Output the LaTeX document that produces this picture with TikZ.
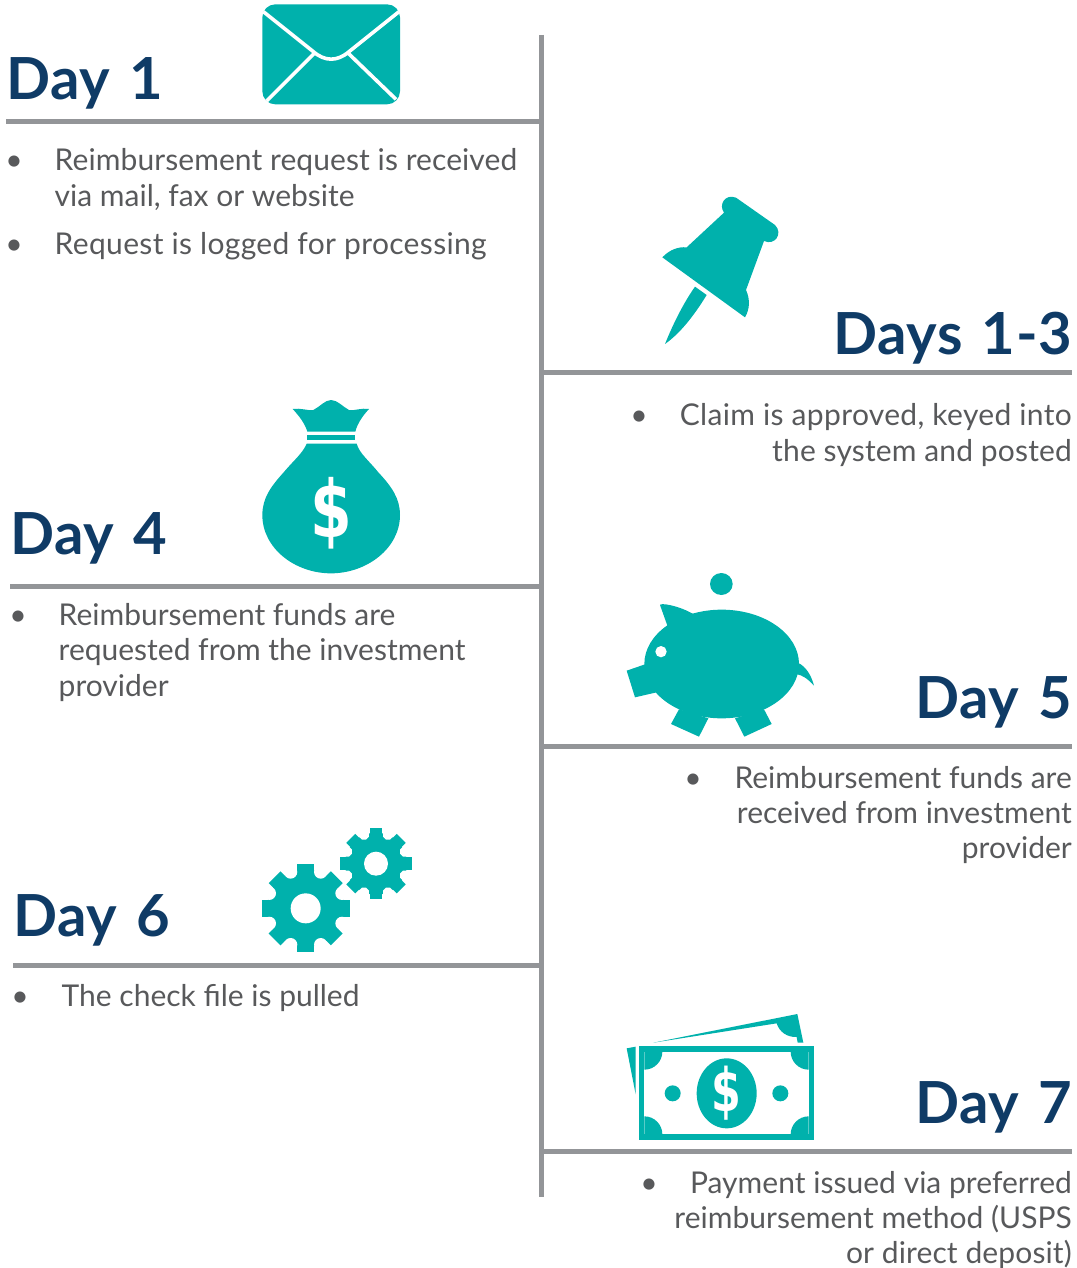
\documentclass[tikz,border=0pt]{standalone}
\usepackage{fontspec}
\setmainfont{Lato}
\newfontfamily\dollarfont{DejaVu Sans}
\newfontfamily\headfont{Lato}[LetterSpace=1,WordSpace=1.3]
\definecolor{teal1}{HTML}{00B1AC}
\definecolor{navy}{HTML}{0F3B66}
\definecolor{txt}{HTML}{58595B}
\definecolor{rule1}{HTML}{939598}
\tikzset{
  x=1pt,y=-1pt,
  rulel/.style={draw=rule1,line width=5pt},
  head/.style={inner sep=0pt,text=navy,font=\fontsize{58}{60}\selectfont\headfont\bfseries},
  body/.style={inner sep=0pt,text=txt,font=\fontsize{30}{35.3}\selectfont},
  sp/.style={font=\fontsize{30}{35.3}\selectfont\addfontfeature{LetterSpace=#1}},
  bl/.style={inner sep=0pt,text=txt,font=\fontsize{30}{35.3}\selectfont,anchor=base},
  ic/.style={fill=teal1,draw=none},
  wh/.style={draw=white,line width=3.6pt,line cap=butt},
  dol/.style={inner sep=0pt,text=white,font=\fontsize{#1}{#1}\selectfont\dollarfont\bfseries},
  z/.style={shift={#1},x=0.33333pt,y=-0.33333pt},
}
\begin{document}
\begin{tikzpicture}
\useasboundingbox (0,0) rectangle (1076,1268);
% rules
\coordinate (vt) at (541,35); \coordinate (vb) at (541,1197);
\draw[rulel] (vt) -- (vb);
\coordinate (r1a) at (6,122);   \coordinate (r1b) at (541,122);
\coordinate (r2a) at (541,372); \coordinate (r2b) at (1072,372);
\coordinate (r3a) at (10,586);  \coordinate (r3b) at (541,586);
\coordinate (r4a) at (541,746); \coordinate (r4b) at (1072,746);
\coordinate (r5a) at (13,965);  \coordinate (r5b) at (541,965);
\coordinate (r6a) at (541,1151);\coordinate (r6b) at (1072,1151);
\draw[rulel] (r1a)--(r1b); \draw[rulel] (r2a)--(r2b); \draw[rulel] (r3a)--(r3b);
\draw[rulel] (r4a)--(r4b); \draw[rulel] (r5a)--(r5b); \draw[rulel] (r6a)--(r6b);
% headings
\node[head,anchor=base west] (h1) at (6.5,100) {Day 1};
\node[head,anchor=base east] (h2) at (1072,354) {Days 1-3};
\node[head,anchor=base west] (h3) at (10.5,554) {Day 4};
\node[head,anchor=base east] (h4) at (1072,718) {Day 5};
\node[head,anchor=base west] (h5) at (13.5,936) {Day 6};
\node[head,anchor=base east] (h6) at (1072,1123) {Day 7};
% body texts (one node per printed line keeps the exact baselines)
\node[bl] (b1) at (14,171) {•};
\node[body,sp=0.3,anchor=base west] (t1a) at (54.5,171) {Reimbursement request is received};
\node[body,anchor=base west] (t1b) at (54.5,206) {via mail, fax or website};
\node[bl] (b2) at (14,254) {•};
\node[body,sp=1.15,anchor=base west] (t2) at (54.5,254) {Request is logged for processing};
\node[bl] (b3) at (639,425) {•};
\node[body,sp=1.15,anchor=base east] (t3a) at (1072,425) {Claim is approved, keyed into};
\node[body,sp=0.5,anchor=base east] (t3b) at (1072,461) {the system and posted};
\node[bl] (b4) at (18,625) {•};
\node[body,anchor=base west] (t4a) at (58.5,625) {Reimbursement funds are};
\node[body,anchor=base west] (t4b) at (58.5,660) {requested from the investment};
\node[body,anchor=base west] (t4c) at (58.5,696) {provider};
\node[bl] (b5) at (693,788) {•};
\node[body,sp=0.1,anchor=base east] (t5a) at (1072,788) {Reimbursement funds are};
\node[body,anchor=base east] (t5b) at (1072,823) {received from investment};
\node[body,anchor=base east] (t5c) at (1072,858) {provider};
\node[bl] (b6) at (20,1006) {•};
\node[body,anchor=base west] (t6) at (61.5,1006) {The check file is pulled};
\node[bl] (b7) at (649,1193) {•};
\node[body,sp=0.1,anchor=base east] (t7a) at (1072,1193) {Payment issued via preferred};
\node[body,sp=0.1,anchor=base east] (t7b) at (1072,1228) {reimbursement method (USPS};
\node[body,sp=0.4,anchor=base east] (t7c) at (1072,1263) {or direct deposit)};
% envelope
\begin{scope}[z={(250,0)}]
\fill[ic,rounded corners=13pt] (37,13) rectangle (450,313);
\draw[wh] (40,35) -- (190,155) .. controls (225,185) and (262,185) .. (297,155) -- (447,35);
\draw[wh] (193,160) -- (50,303);
\draw[wh] (295,160) -- (438,298);
\end{scope}
% pin
\begin{scope}[z={(650,190)}]
\fill[ic] (37,202) .. controls (60,178) and (85,170) .. (110,172) -- (222,68)
  .. controls (205,45) and (225,10) .. (258,23) -- (375,105)
  .. controls (400,130) and (375,168) .. (342,153) -- (288,300)
  .. controls (302,330) and (298,360) .. (285,382) -- cycle;
\fill[ic] (135,290) -- (170,315) .. controls (130,380) and (90,430) .. (45,462)
  .. controls (70,400) and (100,340) .. (135,290) -- cycle;
\end{scope}
% money bag
\begin{scope}[z={(250,395)}]
\fill[ic] (172,110) .. controls (165,85) and (145,60) .. (128,42)
  .. controls (150,38) and (175,48) .. (190,45) .. controls (210,35) and (225,15) .. (243,15)
  .. controls (262,15) and (278,35) .. (297,45) .. controls (312,48) and (335,38) .. (357,42)
  .. controls (340,60) and (322,85) .. (316,110) -- cycle;
\fill[ic] (172,120) rectangle (316,135);
\fill[ic] (170,146) -- (320,146) .. controls (328,175) and (355,195) .. (385,232)
  .. controls (425,275) and (450,310) .. (450,360)
  .. controls (450,460) and (350,535) .. (243,535)
  .. controls (135,535) and (37,460) .. (37,360)
  .. controls (37,310) and (62,275) .. (101,232)
  .. controls (132,195) and (158,175) .. (170,146) -- cycle;
\node[dol=60] (d1) at (243,355) {\scalebox{1}[1.32]{\$}};
\end{scope}
% piggy bank
\begin{scope}[z={(620,570)}]
\fill[ic] (304,42) circle[x radius=34,y radius=33];
\fill[ic] (305,282) ellipse[x radius=232,y radius=163];
\fill[ic] (145,175) -- (120,105) .. controls (120,98) and (175,105) .. (225,135) -- cycle;
\fill[ic] (75,283) -- (20,302) -- (45,382) -- (110,367) -- cycle;
\fill[ic] (177,418) -- (153,462) -- (237,500) -- (265,445) -- cycle;
\fill[ic] (345,445) -- (373,500) -- (455,462) -- (432,418) -- cycle;
\fill[ic] (533,278) .. controls (560,290) and (575,320) .. (582,347)
  .. controls (565,328) and (550,316) .. (528,312) -- cycle;
\fill[white] (123,245) circle[radius=17];
\end{scope}
% gears
\begin{scope}[z={(255,820)}]
\foreach \cx/\cy/\ro/\tw/\rb/\nr/\nd/\hr in {152/265/132/50/116/20/118/45,363/131/107/38/93/16/94/36}{
  \begin{scope}[shift={(\cx,\cy)}]
  \fill[ic] (0,0) circle[radius=\rb];
  \foreach \a in {0,45,...,315}{
    \fill[ic,rotate=\a] (-\tw/2,-\ro) rectangle (\tw/2,0);
  }
  \foreach \a in {22.5,67.5,...,337.5}{
    \fill[white,rotate=\a] (0,-\nd) circle[radius=\nr];
  }
  \fill[white] (0,0) circle[radius=\hr];
  \end{scope}
}
\end{scope}
% banknotes
\begin{scope}[z={(620,1005)}]
\fill[ic] (100,113) -- (532,27) -- (550,113) -- (533,113) -- (530,96) .. controls (500,97) and (478,80) .. (470,55) -- cycle;
\fill[ic] (20,130) -- (47,125) -- (47,268) -- cycle;
\fill[ic] (57,123) rectangle (582,405);
\fill[white] (73,140) rectangle (566,388);
\fill[ic] (73,140) -- (127,140) arc[start angle=0,end angle=90,radius=54] -- cycle;
\fill[ic] (566,140) -- (512,140) arc[start angle=180,end angle=90,radius=54] -- cycle;
\fill[ic] (73,388) -- (127,388) arc[start angle=0,end angle=-90,radius=54] -- cycle;
\fill[ic] (566,388) -- (512,388) arc[start angle=180,end angle=270,radius=54] -- cycle;
\fill[ic] (320,265) ellipse[x radius=90,y radius=105];
\fill[ic] (158,265) circle[radius=24];
\fill[ic] (481,265) circle[radius=24];
\node[dol=46] (d2) at (320,265) {\scalebox{0.93}[1.3]{\$}};
\end{scope}
\end{tikzpicture}
\end{document}
